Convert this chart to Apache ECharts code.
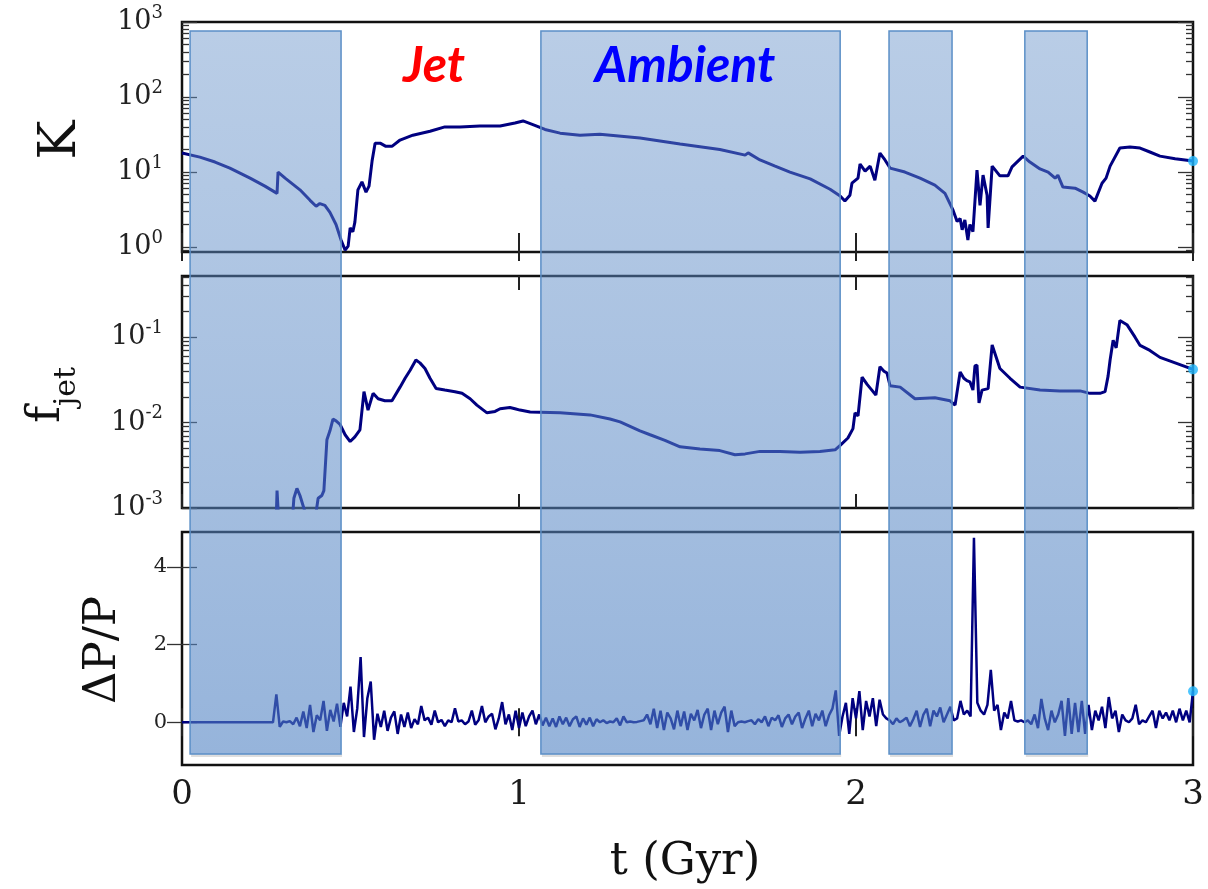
<!DOCTYPE html>
<html><head><meta charset="utf-8">
<script src="https://cdn.jsdelivr.net/npm/echarts@6/dist/echarts.min.js"></script>
<style>html,body{margin:0;padding:0;background:#fff;}#c{width:1208px;height:889px;}</style>
</head><body><div id="c"></div>
<script>
// ---------- data ----------
const kTimes = [0.000,0.053,0.098,0.142,0.202,0.246,0.282,0.285,0.306,0.350,0.380,0.398,0.409,0.424,0.439,0.457,0.472,0.484,0.493,0.499,0.507,0.513,0.522,0.534,0.546,0.555,0.564,0.573,0.588,0.605,0.623,0.647,0.685,0.736,0.780,0.825,0.884,0.944,0.988,1.012,1.047,1.077,1.122,1.181,1.240,1.359,1.478,1.596,1.671,1.680,1.715,1.760,1.804,1.864,1.923,1.953,1.967,1.982,1.988,2.006,2.012,2.027,2.042,2.056,2.071,2.086,2.101,2.145,2.190,2.234,2.264,2.288,2.300,2.309,2.315,2.323,2.332,2.338,2.347,2.359,2.368,2.377,2.389,2.392,2.404,2.427,2.451,2.463,2.496,2.516,2.546,2.570,2.591,2.599,2.614,2.650,2.674,2.694,2.709,2.730,2.742,2.754,2.783,2.813,2.843,2.872,2.902,2.947,3.000];
const kValues = [17.9,15.8,13.6,11.3,8.3,6.5,5.2,10,8.3,5.8,4.2,3.5,3.8,3.6,2.9,2.0,1.24,0.91,1.03,1.8,1.6,2.15,5.8,7.4,5.4,6.5,14,24.3,24.3,22,22,26.7,31,35,40,40,41,41,45,48,42,37,33,31,32,28.5,23.6,20,16.8,18,14.5,12,10,8.1,5.9,4.8,4.1,4.9,7.1,8.3,12.8,10.3,12,7.8,17.9,14.5,11.3,10,8.3,6.7,5.2,3.1,2.2,2.4,1.7,2.3,1.24,2.0,1.6,10.6,3.6,9.1,4.9,1.8,12,8.9,8.9,11.7,16.3,13.6,11,10,8.3,9.1,6.3,6.1,5.4,4.8,4.1,7.1,8.3,12,20.9,21.5,20.9,18.5,16.3,15,14];

const fTimes = [0.279,0.282,0.288,0.326,0.332,0.341,0.350,0.365,0.383,0.398,0.404,0.415,0.421,0.430,0.439,0.448,0.457,0.469,0.484,0.499,0.513,0.528,0.540,0.552,0.567,0.582,0.602,0.623,0.647,0.662,0.677,0.694,0.706,0.721,0.736,0.754,0.780,0.810,0.831,0.855,0.875,0.905,0.929,0.944,0.973,0.988,1.003,1.033,1.062,1.122,1.211,1.270,1.300,1.359,1.389,1.433,1.478,1.537,1.596,1.641,1.671,1.715,1.774,1.834,1.893,1.938,1.953,1.976,1.991,1.997,2.006,2.018,2.033,2.047,2.059,2.071,2.083,2.092,2.101,2.131,2.175,2.234,2.279,2.294,2.309,2.320,2.329,2.338,2.347,2.353,2.359,2.365,2.374,2.392,2.404,2.427,2.457,2.487,2.546,2.605,2.665,2.694,2.724,2.739,2.748,2.754,2.763,2.772,2.783,2.804,2.828,2.843,2.872,2.902,2.947,3.000];
const fValues = [0.0006,0.0016,0.0006,0.0006,0.0013,0.0017,0.0014,0.0009,0.0008,0.0009,0.0013,0.0014,0.0016,0.0063,0.008,0.011,0.0105,0.0095,0.0072,0.006,0.0068,0.0082,0.023,0.014,0.022,0.019,0.018,0.018,0.026,0.033,0.041,0.054,0.05,0.043,0.033,0.025,0.024,0.023,0.022,0.019,0.016,0.013,0.0135,0.0145,0.015,0.0145,0.014,0.0133,0.0132,0.013,0.0123,0.011,0.0102,0.008,0.0072,0.0062,0.0052,0.0049,0.0047,0.0042,0.0043,0.0046,0.0046,0.0045,0.0046,0.0048,0.0054,0.0066,0.0085,0.013,0.012,0.034,0.028,0.024,0.021,0.045,0.04,0.038,0.027,0.026,0.019,0.0195,0.018,0.016,0.039,0.033,0.031,0.03,0.024,0.046,0.047,0.017,0.024,0.025,0.081,0.043,0.033,0.026,0.024,0.0235,0.0235,0.022,0.022,0.023,0.035,0.054,0.092,0.075,0.157,0.14,0.1,0.08,0.07,0.058,0.05,0.042];

const dpStart = 0, dpStep = 0.01;
const dpValues = [
0,0,0,0,0,0,0,0,0,0,
0,0,0,0,0,0,0,0,0,0,
0,0,0,0,0,0,0,0,0.72,-0.12,
0.02,0.0,0.03,-0.05,0.12,-0.1,0.28,-0.15,0.45,-0.25,
0.18,0.05,0.55,-0.22,0.32,0.02,0.48,-0.12,0.5,0.15,
0.92,-0.25,0.35,1.68,-0.38,0.62,1.05,-0.45,0.22,-0.12,
0.3,-0.22,0.12,0.28,-0.3,0.2,-0.12,0.25,-0.15,0.08,
-0.05,0.42,0.05,0.12,-0.06,0.3,0.0,0.06,-0.1,0.05,
0.0,0.36,0.02,0.05,-0.05,0.02,0.3,-0.06,0.05,0.42,
0.0,0.15,0.22,-0.18,0.1,0.52,-0.05,0.2,-0.2,0.3,
-0.15,0.25,-0.1,0.15,0.3,-0.05,0.2,-0.08,0.12,-0.1,
0.1,-0.12,0.15,-0.05,0.12,-0.1,0.08,0.15,-0.12,0.1,
-0.06,0.12,-0.1,0.08,0.0,0.05,-0.02,0.02,0.0,0.1,
-0.08,0.15,0.0,0.02,0.0,0.01,0.03,0.05,0.2,-0.05,
0.35,-0.15,0.3,-0.2,0.25,0.1,-0.18,0.3,-0.1,0.28,
-0.2,0.22,0.05,0.32,-0.15,0.2,0.35,-0.2,0.3,-0.05,
0.25,0.4,-0.25,0.3,-0.1,0.0,0.02,0.0,0.03,0.05,
-0.05,0.08,0.0,0.15,-0.1,0.12,0.05,0.18,-0.12,0.1,
0.2,-0.05,0.15,0.25,-0.15,0.1,0.3,-0.1,0.22,0.05,
0.3,-0.1,0.18,0.35,0.82,-0.35,0.15,0.5,-0.3,0.62,
0.1,0.8,-0.2,0.55,0.15,0.62,-0.1,0.58,0.2,0.1,
0.05,-0.05,0.1,0.0,0.05,0.12,-0.1,0.08,0.3,-0.12,
0.2,0.35,-0.1,0.3,0.15,0.38,0.0,0.2,0.4,0.05,
0.1,0.55,0.2,0.3,0.15,4.75,0.5,0.3,0.2,0.45,
1.35,0.3,0.45,-0.2,0.25,0.1,0.55,0.05,0.02,0.05,
0.0,0.05,-0.05,0.2,-0.15,0.6,0.1,-0.2,0.3,0.0,
0.2,0.55,-0.35,0.62,-0.3,0.5,-0.25,0.55,-0.3,0.45,
-0.2,0.3,0.05,0.4,-0.15,0.65,0.1,0.3,-0.25,0.2,
0.05,0.0,0.1,0.45,-0.05,0.05,0.0,0.15,0.3,-0.15,
0.3,0.1,0.25,0.05,0.3,0.0,0.35,0.05,0.3,0.0,
0.8];

const shadedSpans = [[0.024,0.472],[1.065,1.953],[2.098,2.285],[2.501,2.686]];
const xTicks = [0,1,2,3];
const kExponents = [0,1,2,3];
const fExponents = [-3,-2,-1];
const minorMultipliers = [2,3,4,5,6,7,8,9];
const dpTicks = [0,2,4];
const kRange = [0.86, 1000];
const fRange = [0.001, 0.52];
const dpRange = [-1.1, 4.9];
const labelJet = 'Jet';
const labelAmbient = 'Ambient';
const nameK = 'K', nameF = 'f', nameFsub = 'jet', nameDP = 'ΔP/P', nameT = 't (Gyr)';

// ---------- build ----------
const zip = (a, b) => a.map((v, i) => [v, b[i]]);
const kData = zip(kTimes, kValues);
const fData = zip(fTimes, fValues);
const dpData = dpValues.map((v, i) => [+(dpStart + i * dpStep).toFixed(2), v]);
function minorList(decades, lo, hi) {
  const out = [];
  decades.forEach(d => minorMultipliers.forEach(m => {
    const v = d + Math.log10(m);
    if (v > lo && v < hi) out.push(v);
  }));
  return out;
}
const kLo = Math.log10(kRange[0]), kHi = Math.log10(kRange[1]);
const fLo = Math.log10(fRange[0]), fHi = Math.log10(fRange[1]);
const kMinor = minorList([-1, 0, 1, 2], kLo, kHi);
const fMinor = minorList([-3, -2, -1], fLo, fHi);

const SERIF = 'DejaVu Serif';
const NAVY = '#000080';
const grids = [
  { left: 182, right: 15, top: 22, height: 230 },
  { left: 182, right: 15, top: 276, height: 232 },
  { left: 182, right: 15, top: 532, height: 233 },
  { left: 182, right: 15, top: 31, height: 723 }
];
const gridOpts = grids.map((g, i) => Object.assign({}, g, i < 3 ? { show: true, borderColor: '#111', borderWidth: 2.5, backgroundColor: '#fff' } : { show: false }));

function xAx(gi, pos, labels) {
  return {
    type: 'value', gridIndex: gi, position: pos, min: 0, max: 3, interval: 1,
    axisLine: { show: false }, splitLine: { show: false },
    axisTick: { show: true, inside: true, length: 14, lineStyle: { color: '#222', width: 2 } },
    axisLabel: labels ? { show: true, fontFamily: SERIF, fontSize: 34, color: '#1a1a1a', margin: 13 } : { show: false }
  };
}
const expRich = {
  b: { fontFamily: SERIF, fontSize: 27, color: '#222', lineHeight: 36 },
  s: { fontFamily: SERIF, fontSize: 18, color: '#222', verticalAlign: 'top' }
};
function logTickAx(gi, pos, lo, hi, vals, len, labels) {
  return {
    type: 'value', gridIndex: gi, position: pos, min: lo, max: hi,
    axisLine: { show: false }, splitLine: { show: false },
    axisTick: { show: true, inside: true, length: len, customValues: vals, lineStyle: { color: '#333', width: 1.3 } },
    axisLabel: labels ? {
      show: true, customValues: vals, margin: 19,
      formatter: v => '{b|10}{s|' + Math.round(v) + '}', rich: expRich
    } : { show: false }
  };
}
const xAxes = [
  xAx(0, 'bottom', false), xAx(0, 'top', false),
  xAx(1, 'bottom', false), xAx(1, 'top', false),
  xAx(2, 'bottom', true), xAx(2, 'top', false),
  { type: 'value', gridIndex: 3, min: 0, max: 3, show: false }
];
const yAxes = [
  { type: 'log', logBase: 10, gridIndex: 0, min: kRange[0], max: kRange[1], show: false },            //0
  logTickAx(0, 'left', kLo, kHi, kExponents, 15, true),                                                   //1
  logTickAx(0, 'left', kLo, kHi, kMinor, 7, false),                                                       //2
  logTickAx(0, 'right', kLo, kHi, kExponents, 15, false),                                                 //3
  logTickAx(0, 'right', kLo, kHi, kMinor, 7, false),                                                      //4
  { type: 'log', logBase: 10, gridIndex: 1, min: fRange[0], max: fRange[1], show: false },               //5
  logTickAx(1, 'left', fLo, fHi, fExponents, 15, true),                                                   //6
  logTickAx(1, 'left', fLo, fHi, fMinor, 7, false),                                                       //7
  logTickAx(1, 'right', fLo, fHi, fExponents, 15, false),                                                 //8
  logTickAx(1, 'right', fLo, fHi, fMinor, 7, false),                                                      //9
  { type: 'value', gridIndex: 2, position: 'left', min: dpRange[0], max: dpRange[1],                      //10
    axisLine: { show: false }, splitLine: { show: false },
    axisTick: { show: true, inside: true, length: 15, customValues: dpTicks, lineStyle: { color: '#333', width: 1.3 } },
    axisLabel: { show: true, customValues: dpTicks, margin: 15, fontFamily: SERIF, fontSize: 21, color: '#222' } },
  { type: 'value', gridIndex: 2, position: 'right', min: dpRange[0], max: dpRange[1],                     //11
    axisLine: { show: false }, splitLine: { show: false },
    axisTick: { show: true, inside: true, length: 15, customValues: dpTicks, lineStyle: { color: '#333', width: 1.3 } },
    axisLabel: { show: false } },
  { type: 'value', gridIndex: 3, min: 0, max: 1, show: false }                                            //12
];

const overlayFill = new echarts.graphic.LinearGradient(0, 0, 0, 1, [
  { offset: 0, color: 'rgba(100,144,200,0.45)' },
  { offset: 1, color: 'rgba(80,130,195,0.6)' }
]);
const lineSeries = (xi, yi, data, w) => ({
  type: 'line', xAxisIndex: xi, yAxisIndex: yi, data, showSymbol: false, symbol: 'none',
  lineStyle: { color: NAVY, width: w }, z: 3, animation: false, clip: true
});
const endDot = (xi, yi, pt) => ({
  type: 'scatter', xAxisIndex: xi, yAxisIndex: yi, data: [pt], symbolSize: 10,
  itemStyle: { color: '#20b8ff' }, z: 4, animation: false
});
const series = [
  lineSeries(0, 0, kData, 3),
  lineSeries(2, 5, fData, 3),
  lineSeries(4, 10, dpData, 2.5),
  endDot(0, 0, kData[kData.length - 1]),
  endDot(2, 5, fData[fData.length - 1]),
  endDot(4, 10, dpData[dpData.length - 1]),
  {
    type: 'custom', xAxisIndex: 6, yAxisIndex: 12, data: shadedSpans, z: 10, animation: false, clip: false,
    encode: { x: [0, 1] },
    renderItem: (params, api) => {
      const p0 = api.coord([api.value(0), 1]);
      const p1 = api.coord([api.value(1), 0]);
      const w = p1[0] - p0[0], h = p1[1] - p0[1];
      return {
        type: 'group',
        children: [
          { type: 'rect', shape: { x: p0[0] + 1, y: p1[1], width: w, height: 3 },
            style: { fill: 'rgba(0,0,0,0.13)' } },
          { type: 'rect', shape: { x: p0[0], y: p0[1], width: w, height: h },
            style: { fill: overlayFill, stroke: '#5b8fc7', lineWidth: 1.5 } }
        ]
      };
    }
  }
];

const graphic = [
  { type: 'text', x: 61, y: 140, rotation: Math.PI / 2, z: 100,
    style: { text: nameK, font: '52px "DejaVu Serif"', fill: '#111', textAlign: 'center', textVerticalAlign: 'middle' } },
  { type: 'text', x: 47, y: 395, rotation: Math.PI / 2, z: 100,
    style: { text: '{f|' + nameF + '}{j|' + nameFsub + '}', textAlign: 'center', textVerticalAlign: 'middle',
      rich: { f: { fontFamily: SERIF, fontSize: 46, fill: '#111', lineHeight: 70 },
              j: { fontFamily: SERIF, fontSize: 30, fill: '#111', verticalAlign: 'bottom' } } } },
  { type: 'text', x: 103, y: 650, rotation: Math.PI / 2, z: 100,
    style: { text: nameDP, font: '45px "DejaVu Serif"', fill: '#111', textAlign: 'center', textVerticalAlign: 'middle' } },
  { type: 'text', x: 685, y: 862, z: 100,
    style: { text: nameT, font: '45px "DejaVu Serif"', fill: '#111', textAlign: 'center', textVerticalAlign: 'middle' } },
  { type: 'text', x: 434, y: 66, z: 100,
    style: { text: labelJet, font: 'italic bold 50px Lato, "Liberation Sans", sans-serif', fill: '#ff0000', textAlign: 'center', textVerticalAlign: 'middle' } },
  { type: 'text', x: 685, y: 66, z: 100,
    style: { text: labelAmbient, font: 'italic bold 50px Lato, "Liberation Sans", sans-serif', fill: '#0000ff', textAlign: 'center', textVerticalAlign: 'middle' } }
];

const chart = echarts.init(document.getElementById('c'), null, { renderer: 'canvas' });
chart.setOption({
  backgroundColor: '#fff',
  animation: false,
  grid: gridOpts,
  xAxis: xAxes,
  yAxis: yAxes,
  series,
  graphic
});
</script></body></html>
